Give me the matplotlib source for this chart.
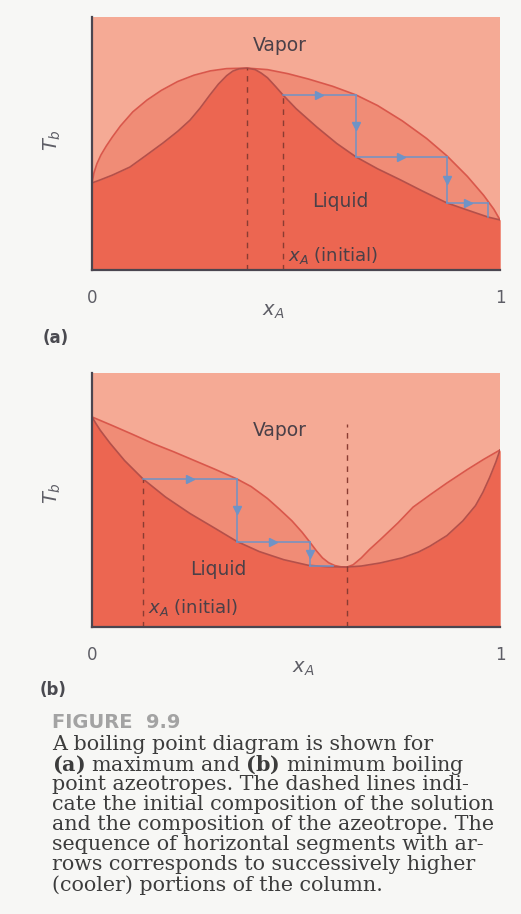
import matplotlib
matplotlib.use("Agg")
from matplotlib import pyplot as plt

# ---- panel (a): maximum boiling azeotrope ----
vap_a_x = [0, 0.005, 0.012, 0.022, 0.035, 0.05, 0.07, 0.10, 0.135, 0.17, 0.21, 0.25, 0.29,
           0.33, 0.38, 0.43, 0.48, 0.53, 0.59, 0.647, 0.70, 0.76, 0.82, 0.87, 0.92, 0.96,
           0.985, 1.0]
vap_a_y = [0.344, 0.385, 0.42, 0.455, 0.49, 0.526, 0.57, 0.625, 0.672, 0.71, 0.745, 0.77,
           0.787, 0.796, 0.798, 0.792, 0.776, 0.755, 0.726, 0.692, 0.65, 0.59, 0.52, 0.451,
           0.37, 0.295, 0.24, 0.198]
liq_a_x = [0, 0.02, 0.05, 0.093, 0.13, 0.174, 0.21, 0.24, 0.265, 0.289, 0.31, 0.33, 0.345,
           0.36, 0.38, 0.40, 0.415, 0.43, 0.45, 0.468, 0.50, 0.551, 0.60, 0.647, 0.70, 0.755,
           0.81, 0.87, 0.92, 0.971, 1.0]
liq_a_y = [0.344, 0.356, 0.375, 0.407, 0.45, 0.502, 0.548, 0.592, 0.640, 0.692, 0.735, 0.768,
           0.786, 0.795, 0.798, 0.792, 0.778, 0.760, 0.725, 0.692, 0.638, 0.565, 0.50, 0.447,
           0.400, 0.357, 0.312, 0.265, 0.237, 0.209, 0.198]
steps_a_x = [0.468, 0.647, 0.870, 0.971]
steps_a_y = [0.692, 0.447, 0.265, 0.209]
azeo_a = 0.38
init_a = 0.468

# ---- panel (b): minimum boiling azeotrope ----
vap_b_x = [0, 0.05, 0.10, 0.15, 0.20, 0.25, 0.30, 0.355, 0.39, 0.43, 0.46, 0.49, 0.515,
           0.534, 0.55, 0.565, 0.58, 0.595, 0.61, 0.625, 0.64, 0.66, 0.68, 0.706, 0.75,
           0.787, 0.83, 0.87, 0.92, 0.96, 1.0]
vap_b_y = [0.827, 0.793, 0.758, 0.722, 0.69, 0.656, 0.622, 0.583, 0.553, 0.506, 0.463,
           0.418, 0.373, 0.334, 0.30, 0.272, 0.253, 0.242, 0.237, 0.236, 0.245, 0.272,
           0.305, 0.343, 0.41, 0.472, 0.522, 0.567, 0.62, 0.66, 0.697]
liq_b_x = [0, 0.01, 0.02, 0.044, 0.08, 0.125, 0.18, 0.24, 0.30, 0.355, 0.41, 0.47, 0.53,
           0.58, 0.625, 0.66, 0.706, 0.76, 0.80, 0.828, 0.87, 0.909, 0.94, 0.958, 0.975,
           0.99, 1.0]
liq_b_y = [0.827, 0.80, 0.775, 0.724, 0.655, 0.583, 0.512, 0.447, 0.39, 0.337, 0.297, 0.265,
           0.243, 0.237, 0.236, 0.24, 0.252, 0.272, 0.295, 0.318, 0.36, 0.418, 0.478, 0.53,
           0.59, 0.65, 0.697]
steps_b_x = [0.125, 0.355, 0.534, 0.591]
steps_b_y = [0.583, 0.335, 0.240]
azeo_b = 0.625
init_b = 0.125

caption = [
    "A boiling point diagram is shown for",
    r"$\mathbf{(a)}$ maximum and $\mathbf{(b)}$ minimum boiling",
    "point azeotropes. The dashed lines indi-",
    "cate the initial composition of the solution",
    "and the composition of the azeotrope. The",
    "sequence of horizontal segments with ar-",
    "rows corresponds to successively higher",
    "(cooler) portions of the column.",
]

VAP_C = '#f5aa95'
LENS_C = '#f08c76'
LIQ_C = '#ec6651'
VAP_LINE = '#d9574b'
LIQ_LINE = '#b4504a'
DASH_C = '#8a3c32'
STEP_C = '#6f93c6'
GRAY = '#5e5e66'
BG = '#f7f7f5'

plt.rcParams['mathtext.fontset'] = 'dejavusans'


def draw_steps(ax, xs, ys, h_arrows, v_arrows):
    for i in range(len(xs) - 1):
        ax.plot([xs[i], xs[i + 1]], [ys[i], ys[i]], color=STEP_C, lw=1.1, zorder=5)
        if i < h_arrows:
            ax.plot((xs[i] + xs[i + 1]) / 2, ys[i], marker='>', ms=5.5, color=STEP_C, zorder=6)
        if i + 1 < len(ys):
            ax.plot([xs[i + 1], xs[i + 1]], [ys[i], ys[i + 1]], color=STEP_C, lw=1.1, zorder=5)
            if i < v_arrows:
                ax.plot(xs[i + 1], (ys[i] + ys[i + 1]) / 2, marker='v', ms=5.5,
                        color=STEP_C, zorder=6)


def panel(rect, vx, vy, lx, ly, sx, sy, azeo, azeo_top, init, init_top,
          h_arrows, v_arrows, vapor_pos, liquid_pos, init_pos, xlab_x, tb_y):
    ax = fig.add_axes(rect)
    ax.set_facecolor(VAP_C)
    ax.set_xlim(0, 1)
    ax.set_ylim(0, 1)
    ax.fill_between(vx, 0, vy, color=LENS_C, lw=0)
    ax.fill_between(lx, 0, ly, color=LIQ_C, lw=0)
    ax.plot(vx, vy, color=VAP_LINE, lw=1.2, solid_joinstyle='round')
    ax.plot(lx, ly, color=LIQ_LINE, lw=1.2, solid_joinstyle='round')
    ax.plot([azeo, azeo], [0, azeo_top], color=DASH_C, lw=1, ls=(0, (4, 4)))
    ax.plot([init, init], [0, init_top], color=DASH_C, lw=1, ls=(0, (4, 4)))
    draw_steps(ax, sx, sy, h_arrows, v_arrows)

    ax.text(*vapor_pos, 'Vapor', fontsize=13.5, color='#4a4048', ha='center', va='center')
    ax.text(*liquid_pos, 'Liquid', fontsize=13.5, color='#4a4048', ha='center', va='center')
    ax.text(*init_pos, r'$x_A$ (initial)', fontsize=13, color='#4a4048', ha='left', va='center')

    for s in ['top', 'right']:
        ax.spines[s].set_visible(False)
    for s in ['left', 'bottom']:
        ax.spines[s].set_color('#4a4650')
        ax.spines[s].set_linewidth(1.6)
    ax.set_yticks([])
    ax.set_xticks([0, 1])
    ax.set_xticklabels(['0', '1'])
    ax.tick_params(axis='x', length=0, pad=14, labelsize=12, labelcolor=GRAY)
    ax.text(xlab_x, -0.165, r'$x_A$', transform=ax.transAxes, fontsize=14,
            color=GRAY, ha='center', va='center')
    ax.text(-0.098, tb_y, r'$T_b$', transform=ax.transAxes, fontsize=14,
            color=GRAY, ha='center', va='center', rotation=90)
    return ax


fig = plt.figure(figsize=(5.21, 9.14), dpi=100)
fig.patch.set_facecolor(BG)

panel([0.1766, 0.7046, 0.7831, 0.2768], vap_a_x, vap_a_y, liq_a_x, liq_a_y,
      steps_a_x, steps_a_y, azeo_a, 0.798, init_a, 0.692, 3, 2,
      (0.461, 0.889), (0.608, 0.269), (0.48, 0.059), 0.444, 0.514)
panel([0.1766, 0.3140, 0.7831, 0.2779], vap_b_x, vap_b_y, liq_b_x, liq_b_y,
      steps_b_x, steps_b_y, azeo_b, 0.80, init_b, 0.583, 2, 2,
      (0.461, 0.772), (0.309, 0.228), (0.137, 0.075), 0.517, 0.528)

fig.text(0.0825, 1 - 338 / 914, '(a)', fontsize=12, fontweight='bold', color='#4a4a50',
         ha='left', va='center')
fig.text(0.077, 1 - 690 / 914, '(b)', fontsize=12, fontweight='bold', color='#4a4a50',
         ha='left', va='center')

fig.text(52 / 521, 1 - 722 / 914, 'FIGURE  9.9', fontsize=14, fontweight='bold',
         color='#a3a3a3', ha='left', va='center')
plt.rcParams['mathtext.fontset'] = 'dejavuserif'
for i, line in enumerate(caption):
    fig.text(52 / 521, 1 - (745 + 20 * i) / 914, line, family='DejaVu Serif',
             fontsize=14.9, color='#3c3c3c', ha='left', va='center')

fig.savefig('out.png', dpi=100, facecolor=BG)
